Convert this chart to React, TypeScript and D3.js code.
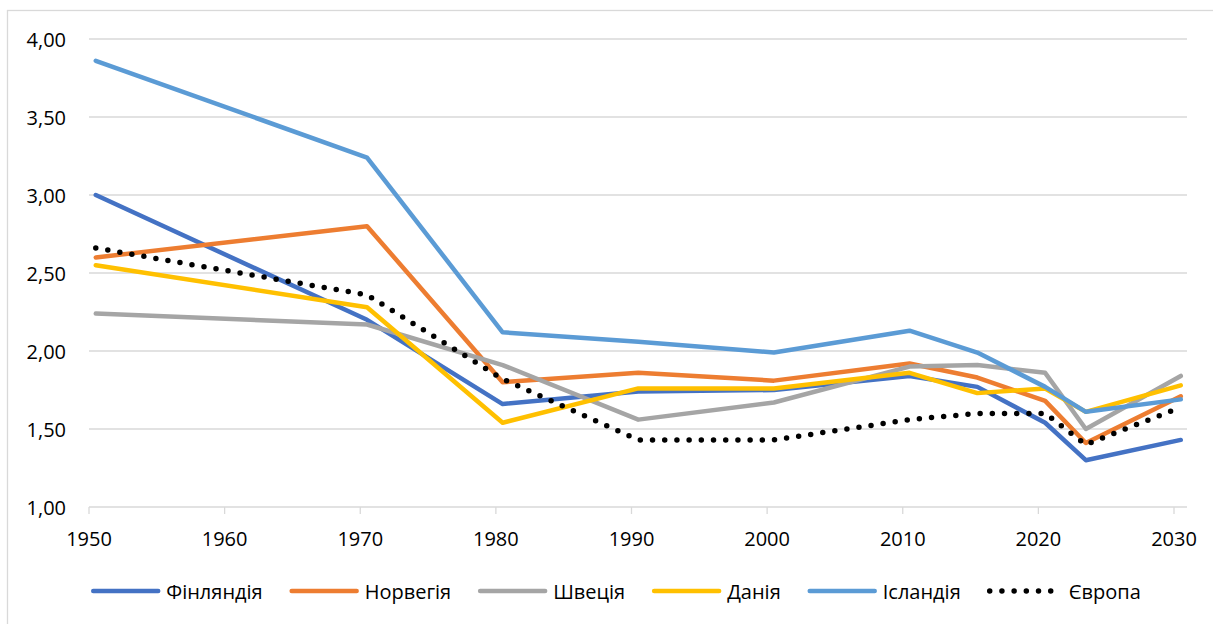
import * as d3 from "d3";
import React, { useEffect, useRef } from "react";

// years of the observations
const years = [1950, 1970, 1980, 1990, 2000, 2010, 2015, 2020, 2023, 2030];

// total fertility rate
const finland = [3.0, 2.2, 1.66, 1.74, 1.75, 1.84, 1.77, 1.54, 1.3, 1.43];
const norway = [2.6, 2.8, 1.8, 1.86, 1.81, 1.92, 1.83, 1.68, 1.41, 1.71];
const sweden = [2.24, 2.17, 1.91, 1.56, 1.67, 1.9, 1.91, 1.86, 1.5, 1.84];
const denmark = [2.55, 2.28, 1.54, 1.76, 1.76, 1.86, 1.73, 1.76, 1.61, 1.78];
const iceland = [3.86, 3.24, 2.12, 2.06, 1.99, 2.13, 1.99, 1.77, 1.61, 1.69];
const europe = [2.66, 2.36, 1.82, 1.43, 1.43, 1.56, 1.6, 1.6, 1.4, 1.64];

const xTicks = [1950, 1960, 1970, 1980, 1990, 2000, 2010, 2020, 2030];
const yTicks = [1, 1.5, 2, 2.5, 3, 3.5, 4];

type Series = { name: string; values: number[]; color: string; dotted?: boolean };

const series: Series[] = [
  { name: "Фінляндія", values: finland, color: "#4472C4" },
  { name: "Норвегія", values: norway, color: "#ED7D31" },
  { name: "Швеція", values: sweden, color: "#A5A5A5" },
  { name: "Данія", values: denmark, color: "#FFC000" },
  { name: "Ісландія", values: iceland, color: "#5B9BD5" },
  { name: "Європа", values: europe, color: "#000000", dotted: true },
];

const W = 1213;
const H = 624;
const FONT = "'Open Sans', 'Noto Sans', sans-serif";
const FONT_SIZE = "20px";
const GRID = "#D9D9D9";

export default function App() {
  const svgRef = useRef<SVGSVGElement | null>(null);

  useEffect(() => {
    if (!svgRef.current) return;
    const svg = d3.select(svgRef.current);
    svg.selectAll("*").remove();

    // chart frame
    svg
      .append("rect")
      .attr("x", 7.5)
      .attr("y", 10.5)
      .attr("width", 1240)
      .attr("height", 640)
      .attr("fill", "#fff")
      .attr("stroke", GRID)
      .attr("stroke-width", 1.3);

    const plotLeft = 89;
    const plotRight = 1187;

    const x = d3.scaleLinear().domain([1950, 2030]).range([89, 1174]);
    const y = d3.scaleLinear().domain([1, 4]).range([507, 39]);
    const fmt = (v: number) => d3.format(".2f")(v).replace(".", ",");

    // horizontal grid
    svg
      .append("g")
      .selectAll("line")
      .data(yTicks)
      .enter()
      .append("line")
      .attr("x1", plotLeft)
      .attr("x2", plotRight)
      .attr("y1", (d) => y(d))
      .attr("y2", (d) => y(d))
      .attr("stroke", GRID)
      .attr("stroke-width", 1.3);

    // x ticks
    svg
      .append("g")
      .selectAll("line")
      .data(xTicks)
      .enter()
      .append("line")
      .attr("x1", (d) => x(d))
      .attr("x2", (d) => x(d))
      .attr("y1", y(1))
      .attr("y2", y(1) + 7)
      .attr("stroke", GRID)
      .attr("stroke-width", 1.3);

    svg
      .append("g")
      .selectAll("text")
      .data(yTicks)
      .enter()
      .append("text")
      .attr("x", 66)
      .attr("y", (d) => y(d))
      .attr("text-anchor", "end")
      .attr("dominant-baseline", "central")
      .style("font-family", FONT)
      .style("font-size", FONT_SIZE)
      .attr("fill", "#000")
      .text((d) => fmt(d));

    svg
      .append("g")
      .selectAll("text")
      .data(xTicks)
      .enter()
      .append("text")
      .attr("x", (d) => x(d))
      .attr("y", 538)
      .attr("text-anchor", "middle")
      .attr("dominant-baseline", "central")
      .style("font-family", FONT)
      .style("font-size", FONT_SIZE)
      .attr("fill", "#000")
      .text((d) => String(d));

    // points sit at mid-year
    const line = d3
      .line<number>()
      .x((_, i) => x(years[i] + 0.5))
      .y((d) => y(d));

    series.forEach((s) => {
      const p = svg
        .append("path")
        .attr("d", line(s.values))
        .attr("fill", "none")
        .attr("stroke", s.color)
        .attr("stroke-linecap", "round")
        .attr("stroke-linejoin", "round");
      if (s.dotted) {
        p.attr("stroke-width", 5.5).attr("stroke-dasharray", "0 12.2");
      } else {
        p.attr("stroke-width", 4.5);
      }
    });

    // legend, centred under the plot
    const legend = svg.append("g");
    const sampleLen = 69;
    const gapText = 6;
    const gapItem = 27;
    const items = series.map((s) => {
      const g = legend.append("g");
      const t = g
        .append("text")
        .attr("x", sampleLen + gapText + (s.dotted ? 6 : 0))
        .attr("y", 591)
        .attr("dominant-baseline", "central")
        .style("font-family", FONT)
        .style("font-size", FONT_SIZE)
        .attr("fill", "#000")
        .text(s.name);
      const seg = g
        .append("line")
        .attr("x1", 2)
        .attr("x2", sampleLen - 2)
        .attr("y1", 591)
        .attr("y2", 591)
        .attr("stroke", s.color)
        .attr("stroke-linecap", "round");
      if (s.dotted) seg.attr("stroke-width", 5.5).attr("stroke-dasharray", "0 12.2");
      else seg.attr("stroke-width", 4.5);
      const w = sampleLen + gapText + (s.dotted ? 6 : 0) + (t.node() as SVGTextElement).getComputedTextLength();
      return { g, w };
    });
    const total = d3.sum(items, (d) => d.w) + gapItem * (items.length - 1);
    let cx = 616 - total / 2;
    items.forEach((it) => {
      it.g.attr("transform", `translate(${cx},0)`);
      cx += it.w + gapItem;
    });
  }, []);

  return (
    <svg
      ref={svgRef}
      width={W}
      height={H}
      style={{ position: "absolute", left: 0, top: 0, background: "#fff" }}
    />
  );
}
